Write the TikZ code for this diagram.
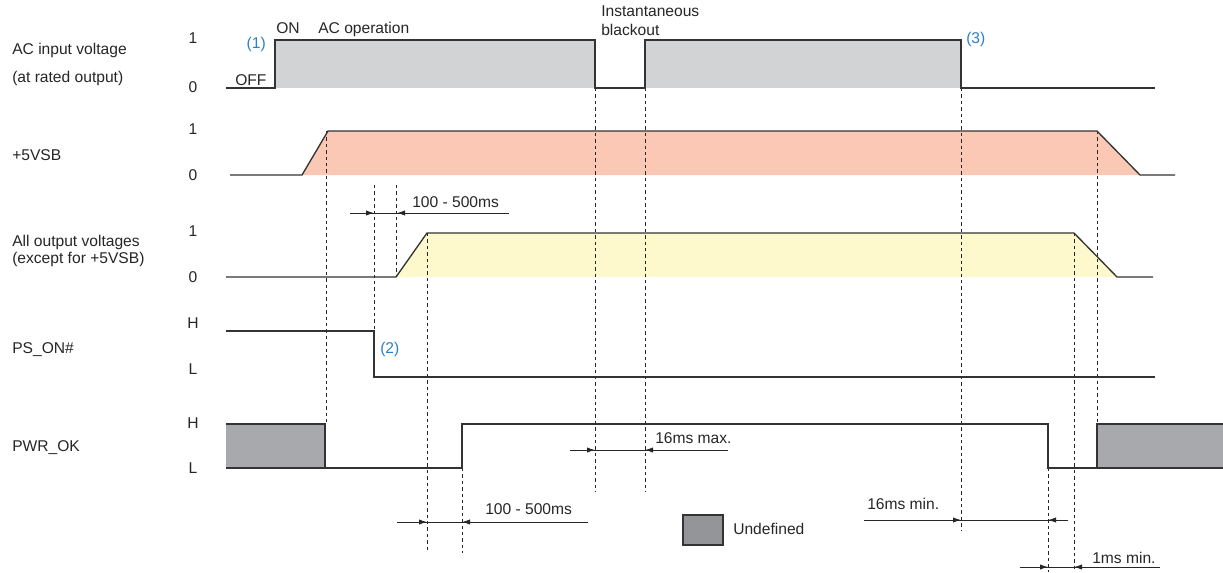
\documentclass[tikz,border=0pt]{standalone}
\usepackage{fontspec}
\setmainfont{Liberation Sans}
\usetikzlibrary{arrows.meta}
\definecolor{wavecol}{HTML}{333333}
\definecolor{acfill}{HTML}{D1D3D4}
\definecolor{vsbfill}{HTML}{FAC8B4}
\definecolor{outfill}{HTML}{FEF9CD}
\definecolor{undeffill}{HTML}{A7A9AC}
\definecolor{keyfill}{HTML}{939598}
\definecolor{noteblue}{HTML}{2A80C6}

\begin{document}
\begin{tikzpicture}[x=0.75pt, y=-0.75pt, every node/.style={font=\fontsize{11.7}{13.5}\selectfont, inner sep=0pt, text=black!85},
	wave/.style={draw=wavecol, line width=1pt, line join=miter},
	guide/.style={draw=black!85, line width=0.7pt, dash pattern=on 2.6pt off 2.2pt},
	dim/.style={draw=black!85, line width=0.7pt},
	tip/.style={-{Latex[length=6pt,width=4pt]}},
	note/.style={text=noteblue, anchor=base west},
	lbl/.style={anchor=base west},
	lvl/.style={anchor=center}]
	\useasboundingbox (0,0) rectangle (1223,572);
	% fills
	\fill[acfill] (275,40) rectangle (595,88);
	\fill[acfill] (645,40) rectangle (961,88);
	\fill[vsbfill] (302,175) -- (328,131) -- (1097,131) -- (1140,175) -- cycle;
	\fill[outfill] (396,277) -- (427,233) -- (1074,233) -- (1117,277) -- cycle;
	% guide lines
	\foreach \x/\ya/\yb in {326/131/424, 374/185/330, 396/185/277, 427/233/550, 462/468/553, 595/88/492, 645/88/492, 961/88/530, 1048/468/572, 1074/233/572, 1097/131/424}
		\draw[guide] (\x,\ya) -- (\x,\yb);
	% waveforms
	\draw[wave] (226,88) -- (275,88) -- (275,40) -- (595,40) -- (595,88) -- (645,88) -- (645,40) -- (961,40) -- (961,88) -- (1155,88);
	\draw[wave] (230,175) -- (302,175) -- (328,131) -- (1097,131) -- (1140,175) -- (1175,175);
	\draw[wave] (226,277) -- (396,277) -- (427,233) -- (1074,233) -- (1117,277) -- (1153,277);
	\draw[wave] (226,331) -- (374,331) -- (374,377) -- (1155,377);
	\draw[wave, fill=undeffill] (226,424) -- (325,424) -- (325,468) -- (226,468);
	\draw[wave] (325,468) -- (462,468) -- (462,424) -- (1048,424) -- (1048,468) -- (1097,468);
	\draw[wave, fill=undeffill] (1223,424) -- (1097,424) -- (1097,468) -- (1223,468);
	% timing arrows
	\foreach \y/\a/\xa/\xb/\b in {213/350/374/397/509, 450/570/595/645/728, 522/397/427/462/588, 520/864/961/1048/1068, 567/1020/1048/1074/1160} {
		\draw[dim] (\a,\y) -- (\b,\y);
		\draw[dim,tip] (\a,\y) -- (\xa,\y);
		\draw[dim,tip] (\b,\y) -- (\xb,\y);
	}
	% signal names
	\node[lbl] (acname) at (12,54) {AC input voltage};
	\node[lbl] (acnote) at (12,82) {(at rated output)};
	\node[lbl] (vsbname) at (12,160) {+5VSB};
	\node[lbl] (outname) at (12,246) {All output voltages};
	\node[lbl] (outnote) at (12,263) {(except for +5VSB)};
	\node[lbl] (psname) at (12,353) {PS\_ON\#};
	\node[lbl] (pwrname) at (12,451) {PWR\_OK};
	% levels
	\foreach \t/\y [count=\i] in {1/38, 0/87, 1/129, 0/175, 1/231, 0/277, H/323, L/369, H/423, L/468}
		\node[lvl] (lvl\i) at (193,\y) {\t};
	% annotations
	\node[lbl] (off) at (235,85) {OFF};
	\node[lbl] (on) at (276,33) {ON};
	\node[lbl] (acop) at (318,33) {AC operation};
	\node[lbl] (blk1) at (601,16) {Instantaneous};
	\node[lbl] (blk2) at (601,35) {blackout};
	\node[note, anchor=base east] (n1) at (266,48) {(1)};
	\node[note] (n2) at (380,353) {(2)};
	\node[note] (n3) at (966,43) {(3)};
	\node[lbl] (t1) at (412,207) {100 - 500ms};
	\node[lbl] (t2) at (655,443) {16ms max.};
	\node[lbl] (t3) at (485,514) {100 - 500ms};
	\node[lbl] (t4) at (867,509) {16ms min.};
	\node[lbl] (t5) at (1092,563) {1ms min.};
	% legend
	\draw[wave, fill=keyfill] (683,515) rectangle (723,545);
	\node[lbl] (undef) at (733,534) {Undefined};
\end{tikzpicture}
\end{document}
